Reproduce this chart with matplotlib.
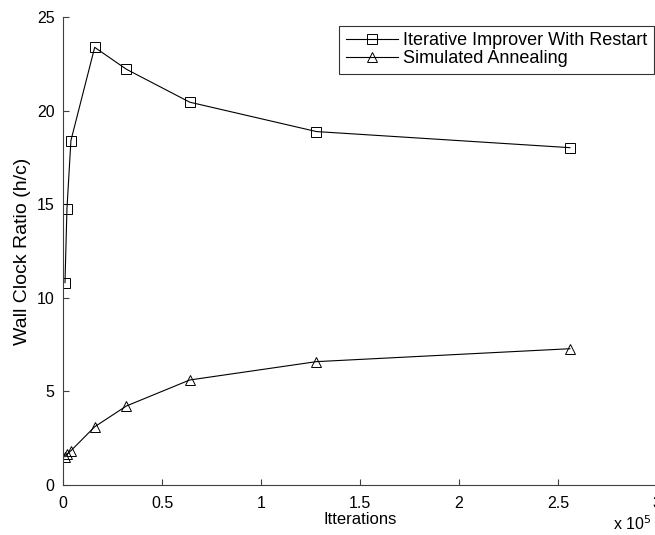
import matplotlib
matplotlib.use("Agg")
import matplotlib.pyplot as plt
from matplotlib.ticker import FuncFormatter

plt.rcParams["font.family"] = ["Liberation Sans", "DejaVu Sans"]

# data
iterations = [1000, 2000, 4000, 16000, 32000, 64000, 128000, 256000]
restart_ratio = [10.81, 14.76, 18.40, 23.38, 22.21, 20.45, 18.88, 18.02]
annealing_ratio = [1.51, 1.65, 1.83, 3.11, 4.22, 5.61, 6.59, 7.28]
series_labels = ["Iterative Improver With Restart", "Simulated Annealing"]


def main():
    fig = plt.figure(figsize=(6.55, 5.35), dpi=100)
    ax = fig.add_axes([63 / 655, 50 / 535, 594 / 655, 468 / 535])

    ax.plot(iterations, restart_ratio, color="black", lw=0.8, marker="s",
            ms=6.5, mfc="none", mec="black", mew=0.7, label=series_labels[0])
    ax.plot(iterations, annealing_ratio, color="black", lw=0.8, marker="^",
            ms=7.5, mfc="none", mec="black", mew=0.7, label=series_labels[1])

    ax.set_xlim(0, 3e5)
    ax.set_ylim(0, 25)
    ax.set_xticks([0, 0.5e5, 1e5, 1.5e5, 2e5, 2.5e5, 3e5])
    ax.set_yticks([0, 5, 10, 15, 20, 25])
    ax.xaxis.set_major_formatter(FuncFormatter(lambda v, p: f"{v / 1e5:g}"))

    for side in ("top", "right"):
        ax.spines[side].set_visible(False)
    for side in ("left", "bottom"):
        ax.spines[side].set_color("0.25")
        ax.spines[side].set_linewidth(0.8)
    ax.tick_params(direction="in", length=4, width=0.8, color="0.25",
                   labelsize=11.5)
    ax.tick_params(axis="x", pad=8)
    ax.tick_params(axis="y", pad=6)

    ax.set_xlabel("Itterations", fontsize=12, labelpad=1)
    ax.set_ylabel("Wall Clock Ratio (h/c)", fontsize=14, labelpad=4)
    fig.text(613 / 655, 2 / 535, "x 10$^5$", fontsize=11.5, ha="left", va="bottom")

    leg = ax.legend(loc="upper right", fontsize=13, frameon=True,
                    fancybox=False, borderpad=0.35, handlelength=2.9,
                    handletextpad=0.3, labelspacing=0.05, borderaxespad=0)
    leg.get_frame().set_edgecolor("black")
    leg.get_frame().set_linewidth(0.8)
    leg.set_bbox_to_anchor((654 / 655, 1 - 26 / 535), transform=fig.transFigure)

    plt.savefig("out.png", dpi=100)


if __name__ == "__main__":
    main()
